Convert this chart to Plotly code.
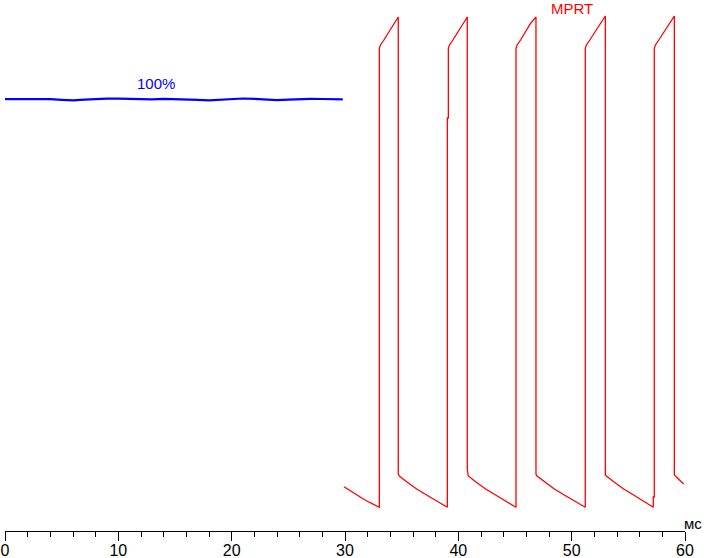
import plotly.graph_objects as go

# Blue trace (100% level), time in ms, brightness in arbitrary units
blue_t = [0, 1, 2, 3, 4, 5, 6, 7, 8, 9, 10, 11, 12, 13, 14, 15, 16, 17, 18, 19,
          20, 21, 22, 23, 24, 25, 26, 27, 28, 29, 29.8]
blue_v = [431.8, 431.8, 432.0, 432.0, 431.8, 431.2, 430.6, 431.3, 432.0, 432.4,
          432.3, 432.0, 431.5, 431.7, 432.2, 432.1, 431.8, 431.2, 430.6, 431.4,
          432.2, 432.5, 432.2, 431.6, 430.9, 431.4, 432.0, 432.2, 432.0, 431.9, 431.7]

# Red trace (MPRT) vertices
red_t = [29.91, 30.44, 31.03, 31.62, 32.21, 32.94,
         33.03, 33.03, 33.13, 33.43, 33.88, 34.31, 34.70,
         34.70, 34.79, 35.44, 36.32, 37.20, 38.08, 38.96,
         39.03, 39.03, 39.12, 39.12, 39.22, 39.52, 39.97, 40.40, 40.79,
         40.79, 40.88, 41.53, 42.41, 43.29, 44.17, 45.05,
         45.09, 45.09, 45.19, 45.49, 45.94, 46.37, 46.85,
         46.85, 46.94, 47.59, 48.47, 49.35, 50.23, 51.15,
         51.20, 51.20, 51.30, 51.60, 52.05, 52.50, 52.97,
         52.97, 53.06, 53.71, 54.59, 55.47, 56.35, 57.20, 57.20, 57.29,
         57.29, 57.39, 57.69, 58.14, 58.59, 59.06,
         59.06, 59.15, 59.50, 59.88]
red_v = [44.3, 40.3, 36.0, 32.0, 28.3, 23.7,
         23.7, 482.7, 486.0, 491.0, 499.3, 507.7, 514.0,
         57.0, 55.0, 49.3, 42.0, 36.0, 30.0, 23.7,
         23.7, 413.0, 413.0, 482.7, 486.0, 491.0, 499.3, 507.7, 514.0,
         61.7, 55.0, 49.3, 42.0, 36.0, 30.0, 23.7,
         23.7, 482.7, 486.0, 491.0, 499.3, 507.7, 514.0,
         57.0, 55.0, 49.3, 42.0, 36.0, 30.0, 23.7,
         23.7, 482.7, 486.0, 491.0, 499.3, 507.7, 515.0,
         56.0, 55.0, 49.3, 42.0, 36.0, 30.0, 23.7, 34.0, 34.0,
         482.7, 486.0, 491.0, 499.3, 507.7, 515.0,
         56.0, 55.0, 51.0, 47.0]

x_ticks = [0, 10, 20, 30, 40, 50, 60]
x_tick_labels = ["0", "10", "20", "30", "40", "50", "60"]
unit_label = "мс"
blue_label = "100%"
red_label = "MPRT"

FONT = "Liberation Sans, Arial, sans-serif"

fig = go.Figure()
fig.add_trace(go.Scatter(x=blue_t, y=blue_v, mode="lines",
                         line=dict(color="#0000FF", width=2.2), hoverinfo="skip"))
fig.add_trace(go.Scatter(x=red_t, y=red_v, mode="lines",
                         line=dict(color="#FF0000", width=1.3), hoverinfo="skip"))

fig.add_annotation(x=13.32, y=448, xref="x", yref="y", text=blue_label, showarrow=False,
                   font=dict(family=FONT, size=15, color="#0000FF"))
fig.add_annotation(x=49.99, y=522.8, xref="x", yref="y", text=red_label, showarrow=False,
                   borderpad=0,
                   font=dict(family=FONT, size=15, color="#FF0000"))
fig.add_annotation(x=1.0118, y=0.0140, xref="paper", yref="paper", text=unit_label,
                   showarrow=False, xanchor="center", yanchor="middle",
                   font=dict(family=FONT, size=15, color="#000000"))

fig.update_layout(
    width=711, height=558,
    margin=dict(l=5, r=26, t=0, b=27, autoexpand=False),
    paper_bgcolor="white", plot_bgcolor="white",
    showlegend=False,
    xaxis=dict(range=[0, 60], tickvals=x_ticks, ticktext=x_tick_labels,
               automargin=False, ticklabelstandoff=-4,
               showgrid=False, zeroline=False, showline=True, linecolor="black",
               linewidth=1, ticks="outside", ticklen=9, tickcolor="black",
               tickfont=dict(family=FONT, size=16, color="black"),
               minor=dict(dtick=2, ticks="outside", ticklen=5, tickcolor="black",
                          showgrid=False)),
    yaxis=dict(range=[0, 531], visible=False, showgrid=False, zeroline=False,
               automargin=False),
)

fig.write_html("out.html", config={"displayModeBar": False},
               post_script="document.body.style.margin='0';")
